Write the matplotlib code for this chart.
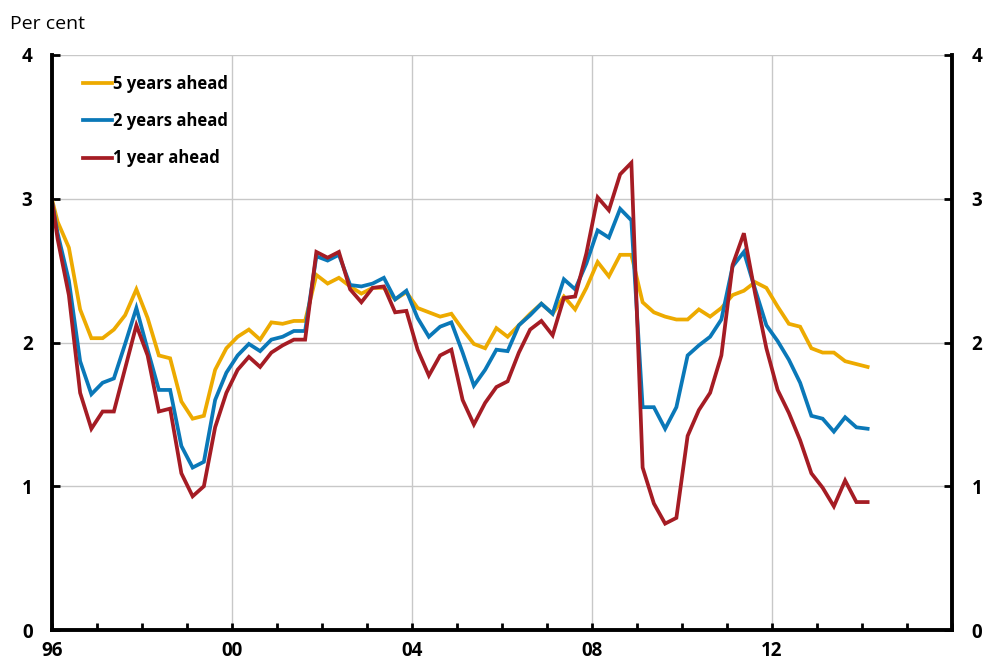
import numpy as np
import matplotlib.pyplot as plt
from matplotlib.ticker import MultipleLocator, FuncFormatter

plt.rcParams['font.family'] = ['Open Sans', 'DejaVu Sans']

# quarterly, 1995Q4 .. 2014Q1 (first point only reaches the left axis)
start_year = 1995.75
five_years = [3.15, 2.84, 2.66, 2.23, 2.03, 2.03, 2.09, 2.19, 2.37, 2.17, 1.91, 1.89, 1.59, 1.47,
              1.49, 1.81, 1.96, 2.04, 2.09, 2.02, 2.14, 2.13, 2.15, 2.15, 2.47, 2.41, 2.45,
              2.39, 2.34, 2.38, 2.38, 2.30, 2.35, 2.24, 2.21, 2.18, 2.20, 2.09, 1.99, 1.96,
              2.10, 2.04, 2.12, 2.20, 2.27, 2.20, 2.32, 2.23, 2.38, 2.56, 2.46, 2.61, 2.61,
              2.28, 2.21, 2.18, 2.16, 2.16, 2.23, 2.18, 2.24, 2.33, 2.36, 2.42, 2.38, 2.25,
              2.13, 2.11, 1.96, 1.93, 1.93, 1.87, 1.85, 1.83]
two_years = [3.20, 2.76, 2.43, 1.87, 1.64, 1.72, 1.75, 1.99, 2.24, 1.95, 1.67, 1.67, 1.28, 1.13,
             1.17, 1.60, 1.79, 1.91, 1.99, 1.94, 2.02, 2.04, 2.08, 2.08, 2.60, 2.57, 2.61,
             2.40, 2.39, 2.41, 2.45, 2.30, 2.36, 2.17, 2.04, 2.11, 2.14, 1.93, 1.70, 1.81,
             1.95, 1.94, 2.12, 2.19, 2.27, 2.20, 2.44, 2.37, 2.55, 2.78, 2.73, 2.93, 2.85,
             1.55, 1.55, 1.40, 1.55, 1.91, 1.98, 2.04, 2.16, 2.53, 2.63, 2.37, 2.12, 2.01,
             1.88, 1.72, 1.49, 1.47, 1.38, 1.48, 1.41, 1.40]
one_year = [3.25, 2.72, 2.33, 1.65, 1.40, 1.52, 1.52, 1.82, 2.12, 1.91, 1.52, 1.54, 1.09, 0.93,
            1.00, 1.41, 1.65, 1.81, 1.90, 1.83, 1.93, 1.98, 2.02, 2.02, 2.63, 2.59, 2.63,
            2.37, 2.28, 2.38, 2.39, 2.21, 2.22, 1.95, 1.77, 1.91, 1.95, 1.60, 1.43, 1.58,
            1.69, 1.73, 1.93, 2.09, 2.15, 2.05, 2.31, 2.32, 2.62, 3.01, 2.92, 3.17, 3.25,
            1.13, 0.88, 0.74, 0.78, 1.35, 1.53, 1.65, 1.91, 2.54, 2.76, 2.34, 1.96, 1.67,
            1.51, 1.32, 1.09, 0.99, 0.86, 1.04, 0.89, 0.89]
series_labels = ['5 years ahead', '2 years ahead', '1 year ahead']
series_colors = ['#EDAA00', '#0A78B8', '#A51C24']

x = start_year + 0.125 + np.arange(len(one_year)) * 0.25

fig = plt.figure(figsize=(9.84, 6.64), dpi=100)
ax = fig.add_axes([52 / 984, 34 / 664, 900 / 984, 575 / 664])

for vals, lab, col in zip([five_years, two_years, one_year], series_labels, series_colors):
    ax.plot(x, vals, color=col, lw=2.7, label=lab, solid_joinstyle='miter')

ax.set_xlim(1996, 2016)
ax.set_ylim(0, 4)

ax.xaxis.set_major_locator(MultipleLocator(1))
ax.xaxis.set_major_formatter(FuncFormatter(
    lambda v, p: f"{int(round(v)) % 100:02d}" if int(round(v)) % 4 == 0 and v < 2015 else ""))
ax.yaxis.set_major_locator(MultipleLocator(1))
ax.yaxis.set_major_formatter(FuncFormatter(lambda v, p: f"{int(v)}"))

for yv in [1, 2, 3, 4]:
    ax.axhline(yv, color='#c8c8c8', lw=1, zorder=0)
for xv in [2000, 2004, 2008, 2012]:
    ax.axvline(xv, color='#c8c8c8', lw=1, zorder=0)

ax.spines['top'].set_visible(False)
for s in ['left', 'right', 'bottom']:
    ax.spines[s].set_linewidth(2.8)
    ax.spines[s].set_color('black')

ax.tick_params(axis='x', direction='in', length=5, width=2, pad=8, labelsize=13.5)
ax.tick_params(axis='y', direction='in', length=6, width=2, labelsize=13.5,
               left=True, right=True, labelleft=True, labelright=True, pad=14)
for t in ax.xaxis.get_major_ticks():
    t.label1.set_fontweight('bold')
for t in ax.yaxis.get_major_ticks():
    t.label1.set_fontweight('bold')
    t.label2.set_fontweight('bold')

fig.text(10 / 984, 1 - 24 / 664, 'Per cent', fontsize=14, va='center', ha='left')

leg = ax.legend(loc='upper left', bbox_to_anchor=(0.034, 0.965), frameon=False,
                prop={'weight': 'bold', 'size': 12}, handlelength=1.75,
                handletextpad=0.1, labelspacing=1.15, borderpad=0, borderaxespad=0)

fig.savefig('out.png', dpi=100, facecolor='white')
